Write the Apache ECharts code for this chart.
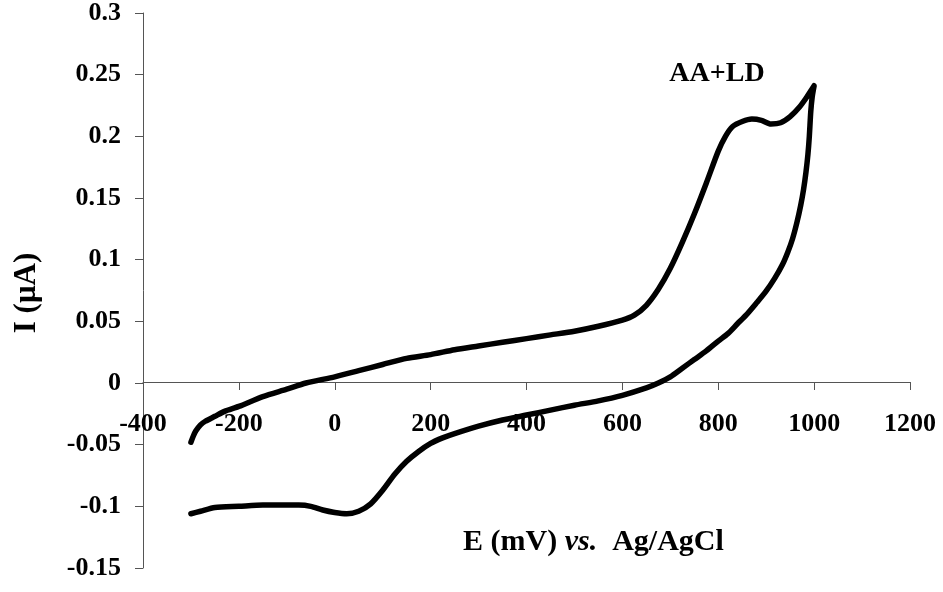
<!DOCTYPE html>
<html>
<head>
<meta charset="utf-8">
<script src="https://cdn.jsdelivr.net/npm/echarts@6/dist/echarts.min.js"></script>
<style>html,body{margin:0;padding:0;background:#fff;}#c{width:943px;height:592px;}</style>
</head>
<body>
<div id="c"></div>
<script>
// Forward (anodic) scan: potential (mV) and current (µA)
var forwardE = [-300,-295,-290,-280,-270,-250,-230,-200,-150,-100,-60,0,50,100,150,200,250,300,350,400,450,500,550,600,625,650,675,700,725,750,775,800,815,830,850,870,890,910,930,950,970,985,995,1000];
var forwardI = [-0.048,-0.043,-0.039,-0.034,-0.031,-0.027,-0.023,-0.019,-0.011,-0.005,0.000,0.005,0.010,0.015,0.020,0.023,0.027,0.030,0.033,0.036,0.039,0.042,0.046,0.051,0.055,0.063,0.076,0.093,0.114,0.137,0.162,0.188,0.200,0.208,0.212,0.214,0.213,0.210,0.211,0.216,0.224,0.232,0.238,0.241];
// Reverse (cathodic) scan
var reverseE = [1000,996,993,990,987,983,978,972,964,955,945,934,918,899,880,858,840,820,800,775,750,725,700,675,650,600,550,500,450,400,350,300,250,225,200,175,150,125,100,75,50,25,0,-25,-50,-75,-100,-150,-200,-250,-280,-300];
var reverseI = [0.241,0.232,0.220,0.200,0.185,0.171,0.157,0.144,0.130,0.117,0.106,0.096,0.085,0.074,0.065,0.055,0.048,0.040,0.034,0.026,0.019,0.012,0.005,0.000,-0.004,-0.010,-0.0145,-0.018,-0.022,-0.026,-0.030,-0.035,-0.041,-0.0445,-0.049,-0.0555,-0.0635,-0.074,-0.087,-0.098,-0.104,-0.106,-0.105,-0.103,-0.100,-0.099,-0.099,-0.099,-0.100,-0.101,-0.104,-0.106];
// Axis settings
var xTicks = {min:-400, max:1200, interval:200};
var yTicks = {min:-0.15, max:0.3, interval:0.05};
var xTitle = ['E (mV) ', 'vs.', '  Ag/AgCl'];
var yTitle = 'I (\u03bcA)';
var curveLabel = 'AA+LD';

var data = [];
for (var i = 0; i < forwardE.length; i++) data.push([forwardE[i], forwardI[i]]);
for (var j = 0; j < reverseE.length; j++) data.push([reverseE[j], reverseI[j]]);

var GRID = {left:143, right:33, top:10, bottom:24};
var gridH = 592 - GRID.top - GRID.bottom;
// place the horizontal axis where I = 0
var zeroOffset = gridH * (0 - yTicks.min) / (yTicks.max - yTicks.min);

var FONT = '"Liberation Serif", "Times New Roman", serif';
var chart = echarts.init(document.getElementById('c'), null, {renderer:'canvas'});
chart.setOption({
  animation:false,
  backgroundColor:'#fff',
  grid:{left:GRID.left, right:GRID.right, top:GRID.top, bottom:GRID.bottom, containLabel:false},
  xAxis:{
    type:'value', min:xTicks.min, max:xTicks.max, interval:xTicks.interval,
    position:'bottom', offset:-zeroOffset,
    axisLine:{onZero:false, lineStyle:{color:'#555', width:1}},
    axisTick:{show:true, length:8, lineStyle:{color:'#555'}},
    axisLabel:{color:'#000', fontFamily:FONT, fontWeight:'bold', fontSize:26, margin:29, showMinLabel:true, showMaxLabel:true,
      formatter:function(v){return String(v);}},
    splitLine:{show:false}
  },
  yAxis:{
    type:'value', min:yTicks.min, max:yTicks.max, interval:yTicks.interval,
    axisLine:{show:true, onZero:false, lineStyle:{color:'#555', width:1}},
    axisTick:{show:true, length:8, lineStyle:{color:'#555'}},
    axisLabel:{color:'#000', fontFamily:FONT, fontWeight:'bold', fontSize:26, margin:22,
      formatter:function(v){return String(parseFloat(v.toFixed(2)));}},
    splitLine:{show:false}
  },
  series:[{
    type:'line', data:data, showSymbol:false, smooth:0.25,
    lineStyle:{color:'#000', width:5.5, join:'round', cap:'round'},
    silent:true
  }],
  graphic:[
    {type:'text', left:463, top:527, style:{
      text:'{b|' + xTitle[0] + '}{i|' + xTitle[1] + '}{b|' + xTitle[2] + '}',
      rich:{
        b:{fontFamily:FONT, fontWeight:'bold', fontSize:30, fill:'#000'},
        i:{fontFamily:FONT, fontWeight:'bold', fontStyle:'italic', fontSize:30, fill:'#000'}
      }
    }},
    {type:'text', x:27, y:293, rotation:Math.PI/2, style:{
      text:yTitle, fontFamily:FONT, fontWeight:'bold', fontSize:31, fill:'#000',
      align:'center', verticalAlign:'middle'
    }},
    {type:'text', x:717, y:74, style:{
      text:curveLabel, fontFamily:FONT, fontWeight:'bold', fontSize:28, fill:'#000',
      align:'center', verticalAlign:'middle'
    }}
  ]
});
</script>
</body>
</html>
